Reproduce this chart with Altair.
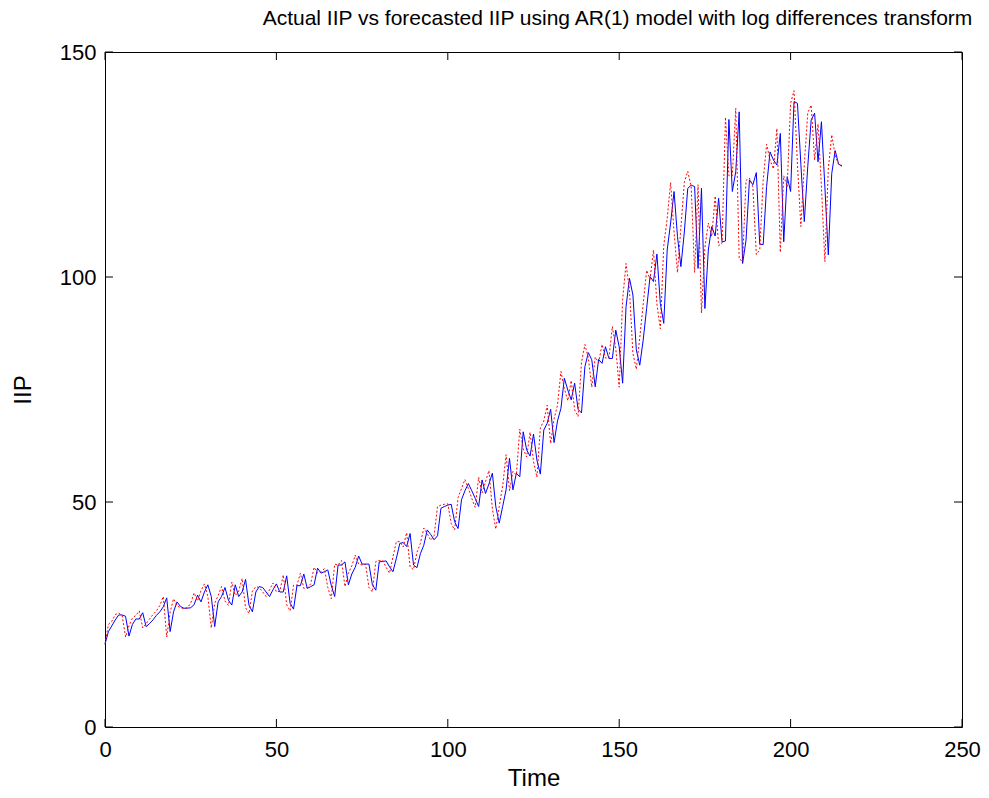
import altair as alt
import pandas as pd

# Actual IIP (blue, solid), t = 0..215
actual = [
    18.4, 21.2, 22.5, 23.8, 24.9, 24.9, 24.6, 20.2, 22.8, 24.0,
    24.0, 25.4, 22.3, 23.0, 23.8, 24.8, 25.6, 26.7, 28.7, 21.2,
    25.6, 27.8, 26.8, 26.4, 26.4, 26.5, 27.2, 29.3, 27.8, 30.0,
    31.6, 29.0, 22.3, 27.8, 29.0, 31.0, 28.2, 27.1, 31.6, 29.0,
    30.0, 32.8, 27.1, 25.6, 30.0, 31.2, 31.0, 30.0, 29.0, 30.5,
    31.8, 30.0, 30.0, 33.6, 27.5, 26.2, 31.4, 31.4, 34.0, 30.8,
    31.2, 31.6, 35.3, 34.2, 34.5, 34.9, 31.5, 29.0, 36.0, 36.0,
    36.7, 31.6, 34.0, 35.5, 38.0, 36.2, 36.2, 36.2, 31.6, 30.4,
    36.7, 36.8, 36.9, 35.6, 34.5, 37.5, 40.8, 41.0, 40.1, 43.0,
    36.0, 35.4, 38.5, 40.4, 43.8, 42.8, 41.6, 42.5, 48.6, 49.0,
    49.3, 49.5, 45.6, 44.1, 50.5, 52.5, 54.1, 52.5, 50.8, 49.0,
    54.9, 51.9, 54.0, 56.4, 49.0, 45.3, 49.0, 52.7, 59.7, 52.7,
    56.4, 55.6, 65.6, 61.6, 60.2, 65.1, 59.3, 56.2, 66.0, 67.5,
    70.6, 63.2, 68.0, 70.8, 77.5, 74.9, 72.7, 76.4, 70.6, 69.8,
    80.1, 83.2, 81.6, 75.6, 81.7, 80.8, 84.5, 81.9, 81.9, 88.2,
    84.5, 76.4, 93.4, 99.7, 96.0, 83.8, 80.4, 86.0, 93.0, 100.1,
    99.0, 105.1, 94.1, 89.7, 106.0, 112.0, 119.0, 109.0, 102.3, 110.0,
    119.7, 120.4, 120.1, 101.9, 119.7, 93.0, 106.0, 111.2, 109.1, 117.5,
    107.8, 108.0, 135.0, 119.0, 123.4, 136.7, 103.0, 108.2, 121.6, 120.5,
    123.2, 107.3, 107.2, 120.1, 127.8, 126.0, 124.9, 131.9, 107.8, 122.3,
    119.0, 139.0, 138.6, 125.0, 112.3, 124.5, 134.9, 136.4, 125.6, 134.5,
    120.0, 104.9, 123.0, 128.1, 125.1, 124.6,
]

# Forecasted IIP (red, dotted), t = 0..215
forecast = [
    18.4, 22.8, 23.5, 25.0, 25.3, 24.8, 20.0, 22.5, 24.2, 24.8,
    25.8, 22.0, 23.0, 24.0, 25.0, 25.8, 27.0, 29.0, 20.0, 25.5,
    28.5, 27.0, 26.5, 26.3, 26.5, 27.5, 29.8, 28.0, 30.3, 31.8,
    29.0, 22.0, 27.5, 29.2, 31.2, 28.0, 27.0, 32.2, 29.2, 30.2,
    33.0, 26.5, 25.2, 30.2, 31.2, 31.0, 30.0, 29.0, 30.5, 32.0,
    30.0, 30.2, 33.8, 27.2, 25.8, 31.5, 31.5, 34.2, 30.8, 31.0,
    31.8, 35.5, 34.2, 34.5, 35.2, 31.0, 28.5, 36.2, 36.0, 37.0,
    31.2, 34.2, 35.8, 38.2, 36.2, 36.0, 36.2, 31.0, 30.0, 36.8,
    37.0, 37.0, 35.5, 34.2, 37.8, 41.2, 41.2, 40.0, 43.2, 35.5,
    35.0, 38.8, 40.8, 44.2, 43.0, 41.5, 42.5, 49.0, 49.3, 49.5,
    49.6, 45.2, 43.8, 51.0, 53.0, 55.0, 53.0, 50.8, 48.8, 55.5,
    52.0, 54.5, 57.0, 48.5, 44.0, 49.0, 53.5, 60.5, 52.5, 56.8,
    56.0, 66.2, 61.8, 60.0, 65.5, 59.0, 55.5, 66.5, 68.0, 71.5,
    63.0, 68.5, 71.5, 79.0, 75.2, 72.5, 77.0, 70.5, 69.0, 81.0,
    85.0, 82.0, 75.5, 82.2, 81.0, 85.0, 82.0, 82.0, 89.0, 84.2,
    75.5, 95.0, 103.0, 97.0, 83.0, 79.5, 86.5, 94.0, 101.5, 99.5,
    106.0, 94.0, 88.5, 107.0, 113.0, 121.0, 110.0, 101.0, 111.0, 121.0,
    123.5, 120.0, 101.0, 120.5, 92.0, 106.5, 112.0, 109.0, 118.0, 107.0,
    107.5, 135.5, 122.5, 122.5, 137.5, 104.0, 103.5, 121.5, 122.0, 120.0,
    105.0, 106.0, 121.5, 129.5, 126.0, 124.0, 133.0, 105.5, 122.5, 120.0,
    138.6, 141.4, 125.0, 111.2, 125.0, 136.5, 138.2, 126.0, 134.0, 120.0,
    103.4, 124.0, 131.6, 127.0, 125.0, 124.8,
]

x_ticks = [0, 50, 100, 150, 200, 250]
y_ticks = [0, 50, 100, 150]

W, H = 857, 675
FONT = "Liberation Sans"
TL = 8

n = min(len(actual), len(forecast))
df = pd.DataFrame({"Time": list(range(n)), "Actual": actual[:n], "Forecast": forecast[:n]})
xt = pd.DataFrame({"v": x_ticks})
yt = pd.DataFrame({"v": y_ticks})

xs = alt.Scale(domain=[0, 250], nice=False, zero=False)
ys = alt.Scale(domain=[0, 150], nice=False, zero=False)

x_axis = alt.Axis(values=x_ticks, ticks=False, tickSize=0, domain=False, grid=False,
                  labelFontSize=22, labelPadding=12, labelFlush=False,
                  labelFont=FONT, labelColor="black",
                  title="Time", titleFont=FONT, titleFontSize=24,
                  titleFontWeight="normal", titleColor="black", titlePadding=6)
y_axis = alt.Axis(values=y_ticks, ticks=False, tickSize=0, domain=False, grid=False,
                  labelFontSize=22, labelPadding=9, labelFont=FONT,
                  labelColor="black",
                  title="IIP", titleFont=FONT, titleFontSize=24,
                  titleFontWeight="normal", titleColor="black", titlePadding=24)

blue = alt.Chart(df).mark_line(color="#0000ff", strokeWidth=1).encode(
    x=alt.X("Time:Q", scale=xs, axis=x_axis),
    y=alt.Y("Actual:Q", scale=ys, axis=y_axis),
)
red = alt.Chart(df).mark_line(color="#ff0000", strokeWidth=1, strokeDash=[2, 2]).encode(
    x=alt.X("Time:Q", scale=xs, axis=x_axis),
    y=alt.Y("Forecast:Q", scale=ys, axis=y_axis),
)

xb = alt.Chart(xt).mark_rule(color="black", strokeWidth=1).encode(
    x=alt.X("v:Q", scale=xs, axis=x_axis), y=alt.value(H - TL), y2=alt.value(H))
xtop = alt.Chart(xt).mark_rule(color="black", strokeWidth=1).encode(
    x=alt.X("v:Q", scale=xs, axis=x_axis), y=alt.value(0), y2=alt.value(TL))
yl = alt.Chart(yt).mark_rule(color="black", strokeWidth=1).encode(
    y=alt.Y("v:Q", scale=ys, axis=y_axis), x=alt.value(0), x2=alt.value(TL))
yr = alt.Chart(yt).mark_rule(color="black", strokeWidth=1).encode(
    y=alt.Y("v:Q", scale=ys, axis=y_axis), x=alt.value(W - TL), x2=alt.value(W))

chart = alt.layer(blue, red, xb, xtop, yl, yr).properties(
    width=W, height=H,
    background="white",
    title=alt.TitleParams(
        "Actual IIP vs forecasted IIP using AR(1) model with log differences transform",
        font=FONT, fontSize=21, fontWeight="normal", color="black",
        anchor="middle", offset=12, dx=84),
    autosize=alt.AutoSizeParams(type="none"),
    padding={"left": 105, "top": 52, "right": 27, "bottom": 71},
).configure_view(stroke="black", strokeWidth=1).configure_axis(
    ticks=False, tickSize=0, domain=False, grid=False
)

chart.save("out.html", embed_options={"renderer": "svg", "actions": False})
